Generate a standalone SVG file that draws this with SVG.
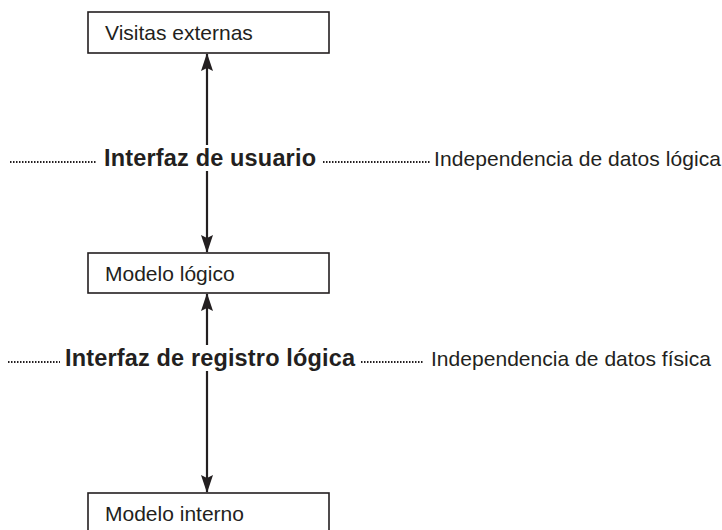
<svg xmlns="http://www.w3.org/2000/svg" width="722" height="530" viewBox="0 0 722 530">
<style>
.box{fill:#fff;stroke:#231f20;stroke-width:1.6}
.lbl{font-family:"Liberation Sans",Arial,sans-serif;font-size:21px;fill:#231f20}
.bold{font-family:"Liberation Sans",Arial,sans-serif;font-size:23.5px;font-weight:bold;fill:#231f20}
.conn{stroke:#231f20;stroke-width:2.2;fill:none;marker-start:url(#ah);marker-end:url(#ah)}
.dot{stroke:#231f20;stroke-width:2;stroke-dasharray:1.5 1.5;fill:none}
</style>
<defs>
<marker id="ah" viewBox="0 0 18 12" refX="17" refY="6" markerWidth="18" markerHeight="12" markerUnits="userSpaceOnUse" orient="auto-start-reverse">
<path d="M0,0 L18,6 L0,12 L3,6 Z" fill="#231f20"/>
</marker>
</defs>
<g id="connectors">
<line class="conn" x1="207" y1="54" x2="207" y2="252"/>
<line class="conn" x1="207" y1="294" x2="207" y2="492"/>
</g>
<g id="dotted">
<line class="dot" x1="10" y1="162" x2="96" y2="162"/>
<line class="dot" x1="323" y1="162" x2="430" y2="162"/>
<line class="dot" x1="8" y1="362" x2="60" y2="362"/>
<line class="dot" x1="361" y1="362" x2="424" y2="362"/>
</g>
<g id="visitas">
<rect class="box" x="88" y="12" width="241" height="41"/>
<text class="lbl" x="105" y="40">Visitas externas</text>
</g>
<g id="modelo-logico">
<rect class="box" x="88" y="253" width="241" height="40"/>
<text class="lbl" x="105" y="281">Modelo lógico</text>
</g>
<g id="modelo-interno">
<rect class="box" x="88" y="493" width="241" height="45"/>
<text class="lbl" x="105" y="521">Modelo interno</text>
</g>
<g id="interfaz-usuario">
<rect x="100" y="145" width="220" height="26" fill="#fff"/>
<text class="bold" x="104" y="166" textLength="212">Interfaz de usuario</text>
</g>
<g id="interfaz-registro">
<rect x="62" y="345" width="296" height="26" fill="#fff"/>
<text class="bold" x="65" y="366" textLength="290">Interfaz de registro lógica</text>
</g>
<text class="lbl" x="434" y="166" textLength="287">Independencia de datos lógica</text>
<text class="lbl" x="431" y="366" textLength="280">Independencia de datos física</text>
</svg>
